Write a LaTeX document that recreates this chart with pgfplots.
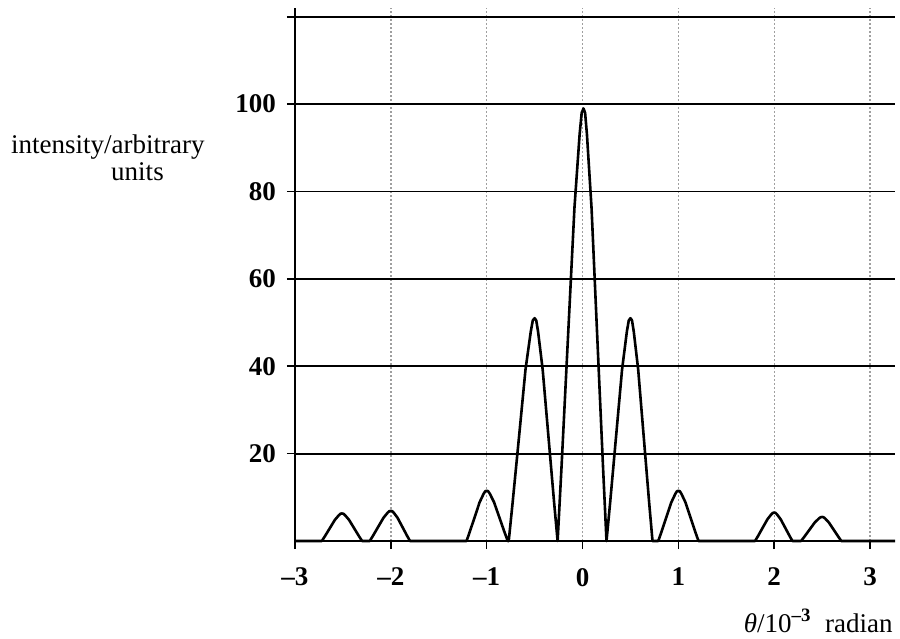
\documentclass[border=0pt]{standalone}
\usepackage{fontspec}
\setmainfont{Liberation Serif}
\usepackage{pgfplots}
\pgfplotsset{compat=1.18}

% intensity pattern, peak by peak
\newcommand{\labfont}{\fontsize{13.5}{15}\selectfont}

\begin{document}
\begin{tikzpicture}
\begin{axis}[
    name=ax,
    scale only axis,
    width=300pt, height=266.5pt,
    xmin=-3, xmax=3.26,
    ymin=0, ymax=122,
    axis x line*=bottom,
    axis y line*=left,
    axis line style={line width=1pt, -},
    xtick={-3,-2,-1,0,1,2,3},
    xticklabels={--3,--2,--1,0,1,2,3},
    ytick={20,40,60,80,100,120},
    yticklabels={20,40,60,80,100,{}},
    tick align=outside,
    major tick length=4pt,
    tick style={black, line width=0.8pt},
    tick label style={font=\labfont\bfseries},
    xticklabel style={yshift=-6pt},
    yticklabel style={xshift=-2pt},
    xmajorgrids, ymajorgrids,
    x grid style={gray!75, line width=0.7pt, dash pattern=on 1pt off 1pt},
    y grid style={black, line width=0.9pt},
    clip=false,
]
\addplot[black, line width=1.3pt, line join=round] coordinates {
(-3,0)
(-2.72,0) (-2.6885,1.07) (-2.636,2.96) (-2.5835,4.85) (-2.5415,5.92) (-2.5247,6.24) (-2.51,6.3)
(-2.4953,6.24) (-2.4785,5.92) (-2.4365,4.85) (-2.384,2.96) (-2.3315,1.07) (-2.30,0)
(-2.22,0) (-2.187,1.17) (-2.132,3.24) (-2.077,5.31) (-2.033,6.49) (-2.0154,6.83) (-2.0,6.9)
(-1.986,6.83) (-1.97,6.49) (-1.93,5.31) (-1.88,3.24) (-1.83,1.17) (-1.80,0)
(-1.21,0) (-1.179,1.96) (-1.126,5.41) (-1.074,8.86) (-1.032,10.81) (-1.0147,11.39) (-1.0,11.5)
(-0.9846,11.39) (-0.967,10.81) (-0.923,8.86) (-0.868,5.41) (-0.813,1.96) (-0.78,0)
(-0.77,0) (-0.73,8.67) (-0.662,23.97) (-0.595,39.27) (-0.54,47.94) (-0.5189,50.49) (-0.5,51)
(-0.4832,50.49) (-0.464,47.94) (-0.416,39.27) (-0.356,23.97) (-0.296,8.67) (-0.26,0)
(-0.2195,16.83) (-0.152,46.53) (-0.0845,76.23) (-0.0305,93.06) (-0.0089,98.0) (0.01,99)
(0.0268,98.0) (0.046,93.06) (0.094,76.23) (0.154,46.53) (0.214,16.83) (0.25,0)
(0.2875,8.67) (0.35,23.97) (0.4125,39.27) (0.4625,47.94) (0.4825,50.49) (0.50,51)
(0.5161,50.49) (0.5345,47.94) (0.5805,39.27) (0.638,23.97) (0.6955,8.67) (0.73,0)
(0.79,0) (0.8215,1.96) (0.874,5.41) (0.9265,8.86) (0.9685,10.81) (0.9853,11.39) (1.0,11.5)
(1.0147,11.39) (1.0315,10.81) (1.0735,8.86) (1.126,5.41) (1.1785,1.96) (1.21,0)
(1.80,0) (1.83,1.1) (1.88,3.06) (1.93,5.0) (1.97,6.11) (1.986,6.44) (2.0,6.5)
(2.0133,6.44) (2.0285,6.11) (2.0665,5.0) (2.114,3.06) (2.1615,1.1) (2.19,0)
(2.28,0) (2.313,0.94) (2.368,2.59) (2.423,4.24) (2.467,5.17) (2.4846,5.45) (2.50,5.5)
(2.514,5.45) (2.53,5.17) (2.57,4.24) (2.62,2.59) (2.67,0.94) (2.70,0)
(3.26,0)
};
\end{axis}
\node[anchor=east, font=\labfont, inner sep=0pt] at ([xshift=-45pt,yshift=197pt]ax.south west) {intensity/arbitrary};
\node[font=\labfont, inner sep=0pt] at ([xshift=-78.75pt,yshift=184.5pt]ax.south west) {units};
\node[anchor=east, font=\labfont, inner sep=0pt] at ([xshift=-1pt,yshift=-40pt]ax.south east) {\textit{θ}/10\textsuperscript{\textbf{--3}}\ \ radian};
\pgfresetboundingbox
\path ([xshift=-147.5pt,yshift=-48.5pt]ax.south west) rectangle ([xshift=2.5pt,yshift=4pt]ax.north east);
\end{tikzpicture}
\end{document}
